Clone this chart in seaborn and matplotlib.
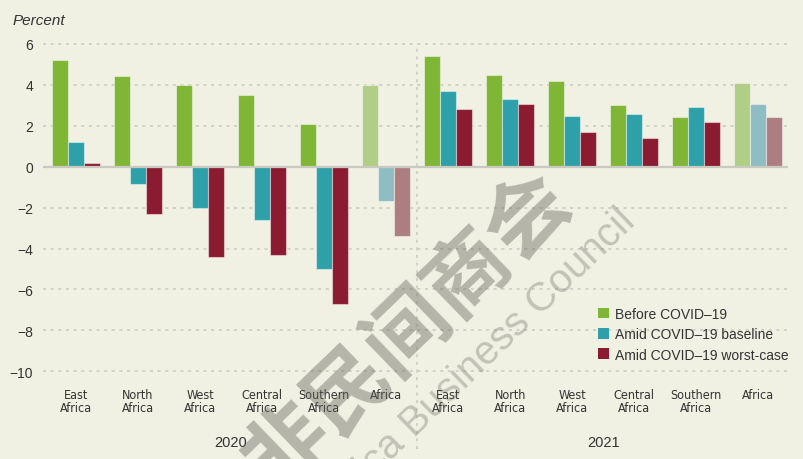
import matplotlib
matplotlib.use("Agg")
import matplotlib.pyplot as plt
import matplotlib.transforms as mtransforms
from matplotlib import font_manager
from matplotlib.patches import Patch
import numpy as np
import pandas as pd
import seaborn as sns

# ---- data -------------------------------------------------------------
regions = ["East\nAfrica", "North\nAfrica", "West\nAfrica",
           "Central\nAfrica", "Southern\nAfrica", "Africa"]
years = ["2020", "2021"]
scenarios = ["Before COVID\u201319", "Amid COVID\u201319 baseline",
             "Amid COVID\u201319 worst-case"]

before_2020 = [5.2, 4.45, 4.0, 3.5, 2.1, 4.0]
baseline_2020 = [1.2, -0.85, -2.0, -2.6, -5.0, -1.7]
worst_2020 = [0.2, -2.3, -4.4, -4.3, -6.7, -3.4]
before_2021 = [5.4, 4.5, 4.2, 3.0, 2.45, 4.1]
baseline_2021 = [3.7, 3.3, 2.5, 2.6, 2.9, 3.05]
worst_2021 = [2.8, 3.05, 1.7, 1.4, 2.2, 2.45]

yticks = [-10, -8, -6, -4, -2, 0, 2, 4, 6]

series = {
    ("2020", scenarios[0]): before_2020,
    ("2020", scenarios[1]): baseline_2020,
    ("2020", scenarios[2]): worst_2020,
    ("2021", scenarios[0]): before_2021,
    ("2021", scenarios[1]): baseline_2021,
    ("2021", scenarios[2]): worst_2021,
}
rows = []
for (yr, sc), vals in series.items():
    for reg, v in zip(regions, vals):
        rows.append({"group": f"{yr} {reg}", "scenario": sc, "value": v})
df = pd.DataFrame(rows)
order = [f"{yr} {reg}" for yr in years for reg in regions]

# ---- style ------------------------------------------------------------
bg = "#f0f0e3"
colors = ["#80b636", "#2ea0aa", "#8a1b30"]
light = ["#b0ce86", "#8fbdc4", "#ad7e80"]
grid_c = "#c9c9c0"
text_c = "#333333"

sns.set_style("white")
plt.rcParams["font.family"] = ["Liberation Sans", "DejaVu Sans"]
names = {f.name for f in font_manager.fontManager.ttflist}
if "Liberation Sans Narrow" in names:
    narrow = font_manager.FontProperties(family="Liberation Sans Narrow", size=10)
else:
    narrow = font_manager.FontProperties(family="DejaVu Sans", stretch="condensed", size=9)

W, H = 804, 460
fig = plt.figure(figsize=(W / 100, H / 100), dpi=100, facecolor=bg)


def px(x, y):
    return x / W, 1 - y / H


ylo, yhi = -10.4, 6.7
ppu = 20.45
top_px = 167.7 - yhi * ppu
bot_px = 167.7 - ylo * ppu
ax = fig.add_axes([43 / W, 1 - bot_px / H, 745 / W, (bot_px - top_px) / H])
ax.set_facecolor(bg)

sns.barplot(data=df, x="group", y="value", hue="scenario", order=order,
            hue_order=scenarios, palette=colors, saturation=1, width=0.78,
            gap=0, edgecolor=(1, 1, 1, 0.45), linewidth=0.8, legend=False,
            ax=ax, zorder=3)

for k, cont in enumerate(ax.containers):
    for j in (5, 11):
        cont.patches[j].set_facecolor(light[k])

ax.set_xlim(-0.53, 11.48)
ax.set_ylim(ylo, yhi)
for s in ax.spines.values():
    s.set_visible(False)

for t in yticks:
    if t == 0:
        ax.axhline(0, color=grid_c, lw=1.6, zorder=4)
    else:
        ax.axhline(t, color=grid_c, lw=1.1, ls=(0, (2, 3)), zorder=1)
ymax_frac = (6 - ylo) / (yhi - ylo)
ax.axvline(5.5, ymin=-0.2, ymax=ymax_frac, color=grid_c, lw=1.1,
           ls=(0, (2, 3)), clip_on=False, zorder=1)

ax.set_yticks(yticks)
ax.set_yticklabels([f"{t}".replace("-", "\u2212") for t in yticks])
ax.tick_params(axis="y", length=0, pad=7, labelsize=10, labelcolor=text_c)
ax.set_xticks(range(len(order)))
ax.set_xticklabels(regions * 2, fontproperties=narrow, linespacing=1.05)
ax.tick_params(axis="x", length=0, pad=6, labelcolor=text_c)
ax.set_xlabel("")
ax.set_ylabel("")

tr = mtransforms.blended_transform_factory(ax.transData, fig.transFigure)
ax.text(2.5, 1 - 443 / H, years[0], transform=tr, ha="center", va="center",
        fontsize=10.5, color=text_c)
ax.text(8.5, 1 - 443 / H, years[1], transform=tr, ha="center", va="center",
        fontsize=10.5, color=text_c)

fig.text(*px(13, 21), "Percent", style="italic", fontsize=11, color=text_c,
         ha="left", va="center")

handles = [Patch(facecolor=c, edgecolor="none") for c in colors]
ax.legend(handles, scenarios, loc="upper left",
          bbox_to_anchor=px(598, 308), bbox_transform=fig.transFigure,
          frameon=False, fontsize=10, borderpad=0, borderaxespad=0,
          handlelength=0.8, handleheight=0.8, handletextpad=0.45,
          labelspacing=0.45, labelcolor=text_c)

# watermark
fig.text(*px(378, 358), "\u4e2d\u975e\u6c11\u95f4\u5546\u4f1a",
         family=["Noto Sans CJK SC", "DejaVu Sans"], fontweight="bold",
         fontsize=60, color="#64645a", alpha=0.42, rotation=44,
         ha="center", va="center", rotation_mode="anchor", zorder=10)
fig.text(*px(436, 402), "China Africa Business Council", fontsize=29,
         color="#64645a", alpha=0.33, rotation=44, ha="center", va="center",
         rotation_mode="anchor", zorder=10)

fig.savefig("out.png", dpi=100, facecolor=bg)
